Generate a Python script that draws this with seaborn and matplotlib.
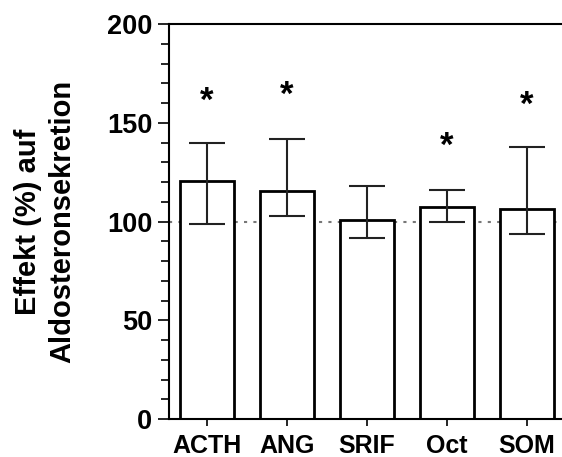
import numpy as np
import pandas as pd
import matplotlib
matplotlib.use('Agg')
import matplotlib.pyplot as plt
from matplotlib.ticker import MultipleLocator
import seaborn as sns

# Werte
gruppen = ['ACTH', 'ANG', 'SRIF', 'Oct', 'SOM']
effekt = [120.7, 115.6, 100.6, 107.5, 106.5]
fehler_oben = [139.9, 141.8, 117.8, 115.9, 137.9]
fehler_unten = [98.7, 102.8, 91.8, 99.7, 93.7]
stern_y = [161, 164, 138, 159]
stern_gruppe = ['ACTH', 'ANG', 'Oct', 'SOM']

sns.set_style('ticks', {'text.color': 'black', 'axes.labelcolor': 'black',
                        'xtick.color': 'black', 'ytick.color': 'black',
                        'axes.edgecolor': 'black'})
plt.rcParams['font.family'] = ['Liberation Sans', 'DejaVu Sans']
plt.rcParams['font.weight'] = 'bold'

df = pd.DataFrame({'gruppe': gruppen, 'effekt': effekt})

fig = plt.figure(figsize=(5.62, 4.57), dpi=100)
ax = fig.add_axes([169/562, 38/457, 1 - 169/562, 395/457])

sns.barplot(data=df, x='gruppe', y='effekt', order=gruppen, color='white',
            edgecolor='black', linewidth=2, width=0.675, ax=ax, zorder=2)

# asymmetrische Fehlerbalken
xpos = np.arange(len(gruppen))
eff = np.array(effekt)
yerr = [eff - np.array(fehler_unten), np.array(fehler_oben) - eff]
ax.errorbar(xpos, eff, yerr=yerr, fmt='none', ecolor='#222222',
            elinewidth=1.5, capsize=13, capthick=1.5, zorder=3)

# Referenzlinie 100 %
ax.axhline(100, color='#777777', linestyle=(0, (1.5, 3)), linewidth=1.5, zorder=1)

for g, y in zip(stern_gruppe, stern_y):
    ax.text(gruppen.index(g), y, '*', ha='center', va='center',
            fontsize=25, fontweight='bold', color='black')

ax.set_ylim(0, 200)
ax.set_xlim(-0.475, 4.44)
ax.yaxis.set_major_locator(MultipleLocator(50))
ax.yaxis.set_minor_locator(MultipleLocator(10))
ax.tick_params(axis='y', which='major', length=8, width=1.2, pad=4, labelsize=19.5)
ax.tick_params(axis='y', which='minor', length=5.5, width=1.2)
ax.tick_params(axis='x', length=5, width=1.2, pad=6, labelsize=18)
for lab in ax.get_xticklabels() + ax.get_yticklabels():
    lab.set_fontweight('bold')

ax.set_xlabel('')
ax.set_ylabel('Effekt (%) auf\nAldosteronsekretion', fontsize=21,
              fontweight='bold', labelpad=22, linespacing=1.3)

for s in ['left', 'top', 'bottom']:
    ax.spines[s].set_linewidth(1.5)
ax.spines['right'].set_visible(False)

fig.savefig('out.png', dpi=100)
